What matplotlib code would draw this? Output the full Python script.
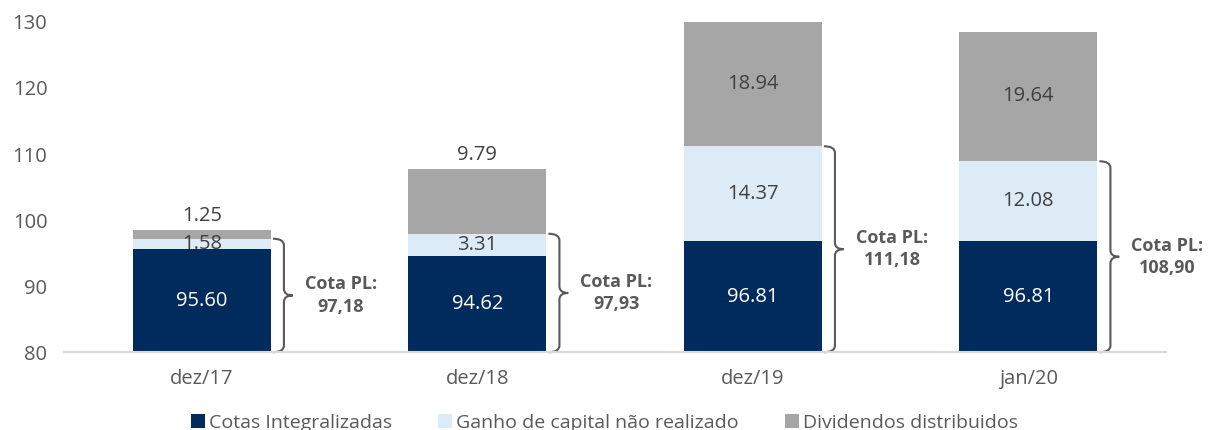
import matplotlib.pyplot as plt
from matplotlib.path import Path
from matplotlib.patches import PathPatch
import numpy as np

plt.rcParams['font.family'] = ['Open Sans', 'DejaVu Sans']

# dados
categorias = ['dez/17', 'dez/18', 'dez/19', 'jan/20']
cotas = [95.60, 94.62, 96.81, 96.81]
ganho = [1.58, 3.31, 14.37, 12.08]
dividendos = [1.25, 9.79, 18.94, 19.64]
cota_pl = [97.18, 97.93, 111.18, 108.90]
base = 80

cor_cotas = '#002B5C'
cor_ganho = '#DDEBF7'
cor_div = '#A6A6A6'
cor_texto = '#595959'

fig = plt.figure(figsize=(12.09, 4.30), dpi=100)
ax = fig.add_axes([0.053, 0.181, 0.9115, 0.768])

x = np.arange(len(categorias))
w = 0.5
c = np.array(cotas)
g = np.array(ganho)
d = np.array(dividendos)

b1 = ax.bar(x, c - base, w, bottom=base, color=cor_cotas, label='Cotas Integralizadas')
b2 = ax.bar(x, g, w, bottom=c, color=cor_ganho, label='Ganho de capital não realizado')
b3 = ax.bar(x, d, w, bottom=c + g, color=cor_div, label='Dividendos distribuidos')

# rótulos
fs = 14.5
for i in range(len(x)):
    ax.text(x[i], (base + c[i]) / 2, f'{cotas[i]:.2f}', ha='center', va='center',
            color='white', fontsize=fs)
    ax.text(x[i], c[i] + g[i] / 2, f'{ganho[i]:.2f}', ha='center', va='center',
            color='#404040', fontsize=fs)
    topo = c[i] + g[i] + d[i]
    if i < 2:
        ax.annotate(f'{dividendos[i]:.2f}', (x[i], topo), xytext=(0, 10.5),
                    textcoords='offset points', ha='center', va='center',
                    color='#404040', fontsize=fs)
    else:
        ax.text(x[i], c[i] + g[i] + d[i] / 2, f'{dividendos[i]:.2f}', ha='center',
                va='center', color='#404040', fontsize=fs)

# chaves
for i in range(len(x)):
    x0 = x[i] + w / 2 + 0.008
    x1 = x0 + 0.04
    x2 = x1 + 0.032
    y_top = cota_pl[i]
    y_bot = base
    y_mid = (y_top + y_bot) / 2
    r = 1.0
    verts = [(x0, y_top), (x1, y_top), (x1, y_top - r),
             (x1, y_mid + r),
             (x1, y_mid), (x2, y_mid),
             (x1, y_mid), (x1, y_mid - r),
             (x1, y_bot + r),
             (x1, y_bot), (x0, y_bot)]
    codes = [Path.MOVETO, Path.CURVE3, Path.CURVE3,
             Path.LINETO,
             Path.CURVE3, Path.CURVE3,
             Path.CURVE3, Path.CURVE3,
             Path.LINETO,
             Path.CURVE3, Path.CURVE3]
    ax.add_patch(PathPatch(Path(verts, codes), fill=False, edgecolor=cor_texto,
                           lw=1.5, clip_on=False))
    txt = 'Cota PL:\n' + f'{cota_pl[i]:.2f}'.replace('.', ',')
    ax.text(x[i] + 0.505, y_mid, txt, ha='center', va='center', multialignment='center',
            fontsize=13, fontweight='bold', color=cor_texto, linespacing=1.3)

ax.set_xlim(-0.5, 3.5)
ax.set_ylim(80, 130)
ax.set_yticks(range(80, 131, 10))
ax.set_xticks(x)
ax.set_xticklabels(categorias)
ax.tick_params(axis='both', length=0, labelsize=14.5, colors=cor_texto)
ax.tick_params(axis='x', pad=12)
ax.tick_params(axis='y', pad=12)
for s in ['top', 'right', 'left']:
    ax.spines[s].set_visible(False)
ax.spines['bottom'].set_color('#D9D9D9')
ax.spines['bottom'].set_linewidth(1.5)

fig.legend(handles=[b1, b2, b3], loc='lower center', bbox_to_anchor=(0.5, -0.045),
           ncol=3, frameon=False, fontsize=14, handlelength=0.7, handleheight=0.7,
           handletextpad=0.2, columnspacing=2.4, labelcolor=cor_texto)

fig.savefig('out.png', dpi=100)
